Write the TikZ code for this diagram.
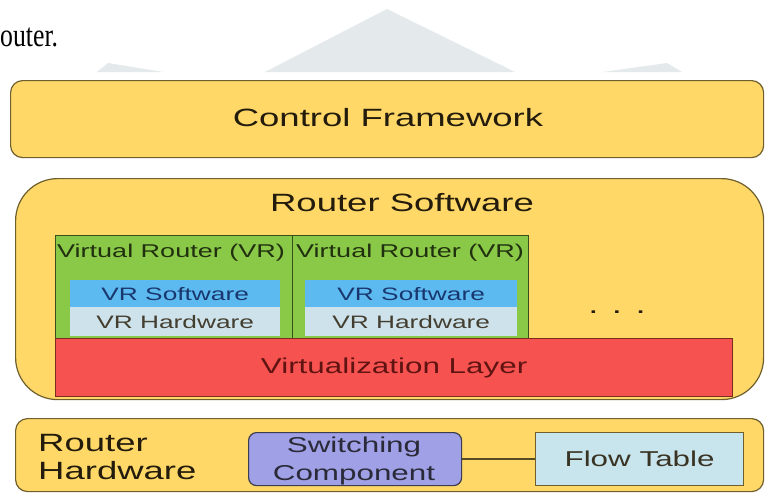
\documentclass[tikz,border=0pt]{standalone}
\usepackage{fontspec}
\setmainfont[FakeStretch=1.46]{Liberation Sans}
\newfontfamily\pagefont[FakeStretch=0.78]{Liberation Serif}
\definecolor{yel}{RGB}{255,216,104}
\definecolor{yelbd}{RGB}{110,95,45}
\definecolor{grn}{RGB}{138,200,72}
\definecolor{grnbd}{RGB}{55,80,25}
\definecolor{rd}{RGB}{245,82,80}
\definecolor{rdbd}{RGB}{125,45,30}
\definecolor{sky}{RGB}{92,186,240}
\definecolor{hwc}{RGB}{205,226,234}
\definecolor{purp}{RGB}{160,160,230}
\definecolor{purpbd}{RGB}{60,60,80}
\definecolor{flow}{RGB}{200,228,236}
\definecolor{txt}{RGB}{35,28,12}
\definecolor{bluetxt}{RGB}{25,55,110}
\definecolor{redtxt}{RGB}{95,20,18}
\definecolor{wm}{RGB}{228,233,235}
\begin{document}
\begin{tikzpicture}[x=1pt,y=-1pt,
  box/.style={draw=yelbd,line width=1.2pt,fill=yel,inner sep=0pt,anchor=north west},
  vrbox/.style={draw=grnbd,line width=1pt,fill=grn,inner sep=0pt,anchor=north west},
  swbox/.style={fill=sky,inner sep=0pt,anchor=north west,text=bluetxt,font=\fontsize{18}{20}\selectfont},
  hwbox/.style={fill=hwc,inner sep=0pt,anchor=north west,text=txt!85,font=\fontsize{18}{20}\selectfont},
  lbl/.style={inner sep=0pt,text=txt},
  conn/.style={draw=yelbd!80!black,line width=1.5pt}]
\useasboundingbox (0,0) rectangle (765,493);
\fill[white] (0,0) rectangle (765,493);
% watermark
\fill[wm] (97,72) -- (108,63) -- (163,72) -- cycle;
\fill[wm] (265,72) -- (387,9) -- (515,72) -- cycle;
\fill[wm] (603,72) -- (667,63) -- (682,72) -- cycle;
% page text
\node[lbl,anchor=base west,text=black,font=\pagefont\fontsize{33}{36}\selectfont] (pg) at (0,46) {outer.};
% control framework
\node[box,rounded corners=12pt,minimum width=753pt,minimum height=77pt] (cf) at (10,80) {};
\node[lbl,font=\fontsize{25}{28}\selectfont] (cft) at (388,118) {Control Framework};
% router software
\node[box,rounded corners=42pt,minimum width=748pt,minimum height=221pt] (rs) at (15,178) {};
\node[lbl,font=\fontsize{25}{28}\selectfont] (rst) at (402,203) {Router Software};
% virtual routers
\node[vrbox,minimum width=237pt,minimum height=103pt] (vr1) at (55,235) {};
\node[vrbox,minimum width=236pt,minimum height=103pt] (vr2) at (292,235) {};
\node[lbl,anchor=west,text=grnbd!60!black,font=\fontsize{18.5}{20}\selectfont] (vr1t) at (57,253) {Virtual Router (VR)};
\node[lbl,anchor=west,text=grnbd!60!black,font=\fontsize{18.5}{20}\selectfont] (vr2t) at (296,253) {Virtual Router (VR)};
\node[swbox,minimum width=210pt,minimum height=27pt] (sw1) at (70,280) {VR Software};
\node[hwbox,minimum width=210pt,minimum height=29pt] (hw1) at (70,307) {VR Hardware};
\node[swbox,minimum width=212pt,minimum height=27pt] (sw2) at (305,280) {VR Software};
\node[hwbox,minimum width=212pt,minimum height=29pt] (hw2) at (305,307) {VR Hardware};
\node[lbl,anchor=base,font=\fontsize{25}{28}\selectfont] (dots) at (617,313) {. . .};
% virtualization layer
\node[draw=rdbd,line width=1.2pt,fill=rd,inner sep=0pt,anchor=north west,minimum width=677pt,minimum height=58pt,text=redtxt,font=\fontsize{21.5}{24}\selectfont] (vl) at (55,338) {Virtualization Layer};
% router hardware
\node[box,rounded corners=12pt,minimum width=748pt,minimum height=73pt] (rh) at (15,418) {};
\node[lbl,anchor=west,align=left,font=\fontsize{25}{28}\selectfont] (rht) at (38,457) {Router\\Hardware};
\node[draw=purpbd,line width=1.2pt,fill=purp,rounded corners=8pt,inner sep=0pt,anchor=north west,minimum width=213pt,minimum height=53pt] (swc) at (248,432) {};
\node[lbl,align=center,text=purpbd!70!black,font=\fontsize{21.5}{28}\selectfont] (swct) at (354,461) {Switching\\Component};
\node[draw=yelbd,line width=1.2pt,fill=flow,inner sep=0pt,anchor=north west,minimum width=208pt,minimum height=53pt,text=txt!90,font=\fontsize{21.5}{24}\selectfont] (ft) at (535,432) {Flow Table};
\draw[conn] (swc.east) -- (ft.west);
\end{tikzpicture}
\end{document}
